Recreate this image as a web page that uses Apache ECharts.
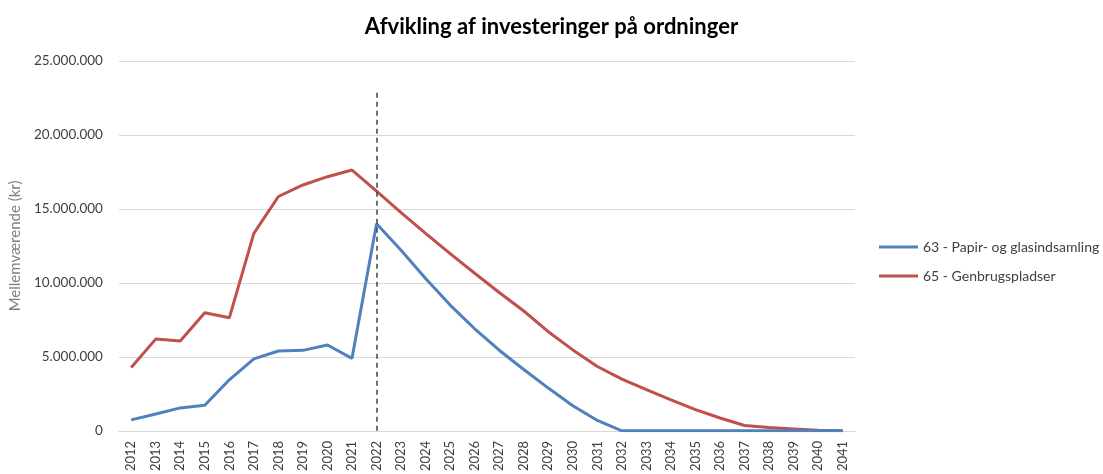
<!DOCTYPE html>
<html>
<head>
<meta charset="utf-8">
<script src="https://cdn.jsdelivr.net/npm/echarts@6/dist/echarts.min.js"></script>
<style>html,body{margin:0;padding:0;background:#fff}#c{width:1103px;height:474px}</style>
</head>
<body>
<div id="c"></div>
<script>
const title = 'Afvikling af investeringer på ordninger';
const yAxisName = 'Mellemværende (kr)';
const years = ['2012','2013','2014','2015','2016','2017','2018','2019','2020','2021','2022','2023','2024','2025','2026','2027','2028','2029','2030','2031','2032','2033','2034','2035','2036','2037','2038','2039','2040','2041'];
const seriesNames = ['63 - Papir- og glasindsamling', '65 - Genbrugspladser'];
const papir = [740000,1140000,1550000,1730000,3450000,4860000,5400000,5440000,5800000,4900000,14000000,12200000,10300000,8500000,6900000,5450000,4150000,2890000,1700000,700000,0,0,0,0,0,0,0,0,0,0];
const genbrug = [4280000,6200000,6070000,7980000,7640000,13350000,15840000,16620000,17180000,17630000,16200000,14750000,13350000,11980000,10650000,9350000,8100000,6700000,5470000,4350000,3500000,2780000,2100000,1430000,870000,360000,220000,130000,40000,0];
const markerYear = '2022';
const markerTop = 23050000;
const yMin = 0, yMax = 25000000, yInterval = 5000000;

function fmt(v){ return String(Math.round(v)).replace(/\B(?=(\d{3})+(?!\d))/g,'.'); }

const font = 'Lato, "Liberation Sans", sans-serif';
const chart = echarts.init(document.getElementById('c'));
chart.setOption({
  animation:false,
  backgroundColor:'#fff',
  title:{text:title,left:'center',top:11,textStyle:{fontFamily:font,fontSize:22,fontWeight:'bold',color:'#000'}},
  legend:{orient:'vertical',left:879,top:240,padding:0,itemGap:15,itemWidth:39,itemHeight:3,icon:'rect',
    textStyle:{fontFamily:font,fontSize:14,color:'#404040'},
    data:seriesNames},
  grid:{left:118,right:248,top:61,bottom:41,containLabel:false},
  xAxis:{type:'category',data:years,boundaryGap:true,
    axisLine:{lineStyle:{color:'#D9D9D9',width:1}},axisTick:{show:false},
    axisLabel:{rotate:90,fontFamily:font,fontSize:13,color:'#404040',margin:10,interval:0}},
  yAxis:{type:'value',min:yMin,max:yMax,interval:yInterval,
    name:yAxisName,nameLocation:'middle',nameGap:92,nameRotate:90,
    nameTextStyle:{fontFamily:font,fontSize:15,color:'#7f7f7f'},
    axisLine:{show:false},axisTick:{show:false},
    splitLine:{lineStyle:{color:'#D9D9D9',width:1}},
    axisLabel:{formatter:fmt,fontFamily:font,fontSize:13.5,color:'#404040',margin:16}},
  series:[
    {name:seriesNames[0],type:'line',data:papir,symbol:'none',lineStyle:{color:'#4F81BD',width:3},itemStyle:{color:'#4F81BD'},z:3,
     markLine:{silent:true,symbol:'none',label:{show:false},lineStyle:{color:'#404040',type:[5,4],width:1.5},
       data:[[{coord:[markerYear,0]},{coord:[markerYear,markerTop]}]]}},
    {name:seriesNames[1],type:'line',data:genbrug,symbol:'none',lineStyle:{color:'#C0504D',width:3},itemStyle:{color:'#C0504D'},z:2}
  ]
});
</script>
</body>
</html>
